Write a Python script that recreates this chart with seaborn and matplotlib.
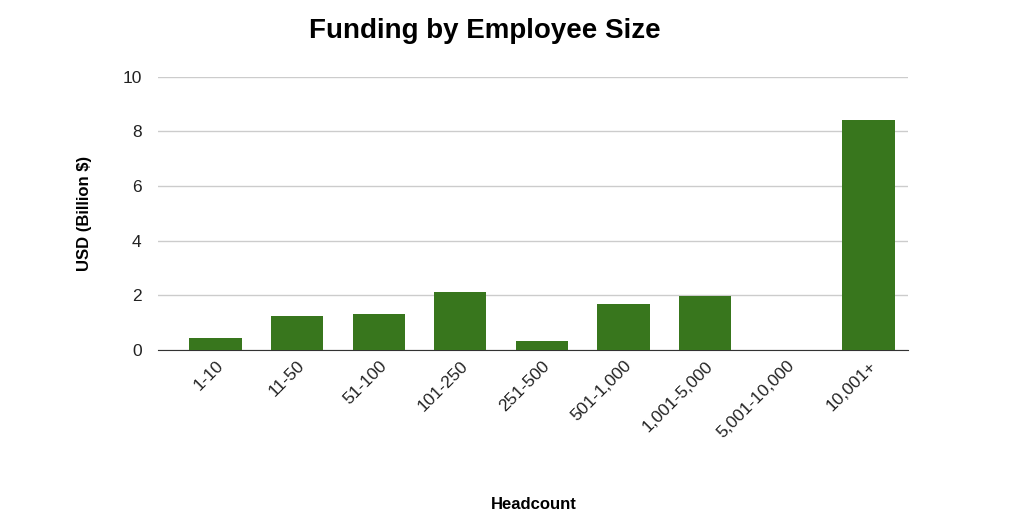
import matplotlib
matplotlib.use("Agg")
import matplotlib.pyplot as plt
import seaborn as sns
import pandas as pd

categories = ["1-10", "11-50", "51-100", "101-250", "251-500", "501-1,000",
              "1,001-5,000", "5,001-10,000", "10,001+"]
values = [0.45, 1.25, 1.30, 2.12, 0.33, 1.68, 1.98, 0.0, 8.42]
yticks = [0, 2, 4, 6, 8, 10]

df = pd.DataFrame({"Headcount": categories, "USD": values})
plt.rcParams["font.family"] = "Liberation Sans"
fig = plt.figure(figsize=(10.15, 5.26), dpi=100)
ax = fig.add_axes([0.156, 0.335, 0.739, 0.519])
sns.barplot(data=df, x="Headcount", y="USD", color="#38761d", width=0.64,
            saturation=1, ax=ax, zorder=3)
ax.set_xlim(-0.7, 8.49)
ax.set_ylim(0, 10)
ax.set_yticks(yticks)
ax.grid(axis="y", color="#cccccc", linewidth=1, zorder=0)
for s in ["top", "right", "left"]:
    ax.spines[s].set_visible(False)
ax.spines["bottom"].set_color("#333333")
ax.tick_params(axis="both", length=0, labelsize=12.5, colors="#222222")
ax.tick_params(axis="y", pad=12)
ax.tick_params(axis="x", pad=6)
plt.setp(ax.get_xticklabels(), rotation=45, ha="right", rotation_mode="anchor")
ax.set_xlabel("Headcount", fontsize=12, fontweight="bold", labelpad=40)
ax.set_ylabel("USD (Billion $)", fontsize=12, fontweight="bold", labelpad=22)
fig.suptitle("Funding by Employee Size", x=0.478, y=0.965, fontsize=20, fontweight="bold")
fig.savefig("out.png", dpi=100)
